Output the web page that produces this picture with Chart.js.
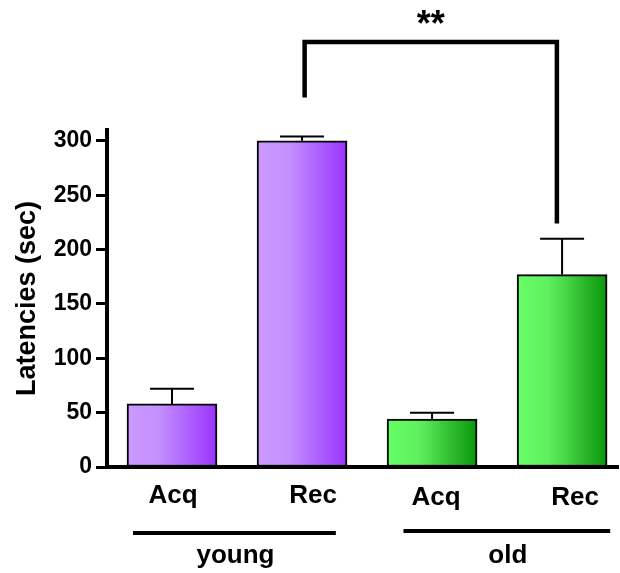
<!DOCTYPE html>
<html>
<head>
<meta charset="utf-8">
<script src="https://cdn.jsdelivr.net/npm/chart.js@4"></script>
<style>
    body { margin: 0; background: #fff; }
    #wrap { width: 620px; height: 573px; }
</style>
</head>
<body>
<div id="wrap"><canvas id="latencyChart" width="620" height="573"></canvas></div>
<script>
const categories = ["Acq", "Rec", "Acq", "Rec"];
const groups = ["young", "old"];
const latencies = [58, 300, 44, 177];
const sem = [14, 4, 6, 33];
const yTicks = [0, 50, 100, 150, 200, 250, 300];
const significance = "**";

const fontFamily = "'Liberation Sans', Arial, sans-serif";

// young bars purple, old bars green
function barGradient(context) {
    const chart = context.chart;
    const x = chart.scales.x;
    if (!x || !chart.chartArea) {
        return "#cc99ff";
    }
    const center = x.getPixelForValue(context.dataIndex);
    const g = chart.ctx.createLinearGradient(center - 45, 0, center + 45, 0);
    if (context.dataIndex < 2) {
        g.addColorStop(0, "#cc99ff");
        g.addColorStop(0.35, "#c490ff");
        g.addColorStop(1, "#9933ff");
    } else {
        g.addColorStop(0, "#66ff66");
        g.addColorStop(0.35, "#5ff05f");
        g.addColorStop(1, "#0a960a");
    }
    return g;
}

const extrasPlugin = {
    id: "extras",
    afterDatasetsDraw(chart) {
        const ctx = chart.ctx;
        const x = chart.scales.x;
        const y = chart.scales.y;

        ctx.save();
        ctx.strokeStyle = "#000";
        ctx.fillStyle = "#000";

        // error bars
        ctx.lineWidth = 2;
        latencies.forEach((v, i) => {
            const cx = x.getPixelForValue(i);
            const top = y.getPixelForValue(v + sem[i]);
            ctx.beginPath();
            ctx.moveTo(cx, y.getPixelForValue(v));
            ctx.lineTo(cx, top);
            ctx.moveTo(cx - 22, top);
            ctx.lineTo(cx + 22, top);
            ctx.stroke();
        });

        // significance bracket between young Rec and old Rec
        const lx = x.getPixelForValue(1.02);
        const rx = x.getPixelForValue(2.96);
        const by = y.getPixelForValue(391);
        ctx.lineWidth = 4.5;
        ctx.lineCap = "butt";
        ctx.lineJoin = "miter";
        ctx.beginPath();
        ctx.moveTo(lx, y.getPixelForValue(340));
        ctx.lineTo(lx, by);
        ctx.lineTo(rx, by);
        ctx.lineTo(rx, y.getPixelForValue(224));
        ctx.stroke();

        ctx.font = "bold 36px " + fontFamily;
        ctx.textAlign = "center";
        ctx.textBaseline = "alphabetic";
        ctx.fillText(significance, (lx + rx) / 2, 36);

        // category labels under bars
        const nudge = [1, 11, 4, 13];
        ctx.font = "bold 26px " + fontFamily;
        categories.forEach((c, i) => {
            ctx.fillText(c, x.getPixelForValue(i) + nudge[i], i < 2 ? 503 : 505);
        });

        // group lines and names
        const spans = [[-0.3, 1.26], [1.78, 3.37]];
        ctx.lineWidth = 4;
        ctx.font = "bold 26px " + fontFamily;
        groups.forEach((name, i) => {
            const x0 = x.getPixelForValue(spans[i][0]);
            const x1 = x.getPixelForValue(spans[i][1]);
            const ly = i === 0 ? 533 : 531;
            ctx.beginPath();
            ctx.moveTo(x0, ly);
            ctx.lineTo(x1, ly);
            ctx.stroke();
            ctx.fillText(name, (x0 + x1) / 2 + 1, 563);
        });

        ctx.restore();
    }
};

const ctx = document.getElementById("latencyChart").getContext("2d");

new Chart(ctx, {
    type: "bar",
    data: {
        datasets: [
            {
                data: latencies.map((v, i) => ({ x: i, y: v })),
                backgroundColor: barGradient,
                borderColor: "#000",
                borderWidth: 2,
                borderSkipped: false,
                barThickness: 90
            }
        ]
    },
    options: {
        responsive: false,
        animation: false,
        layout: {
            padding: { top: 130, bottom: 106, left: 0, right: 2 }
        },
        plugins: {
            legend: { display: false },
            tooltip: { enabled: false }
        },
        scales: {
            x: {
                type: "linear",
                offset: false,
                min: -0.5,
                max: 3.43,
                grid: { display: false, drawTicks: false },
                ticks: { display: false },
                border: { display: true, color: "#000", width: 4 },
                afterFit(scale) {
                    scale.height = 0;
                }
            },
            y: {
                min: 0,
                max: 310,
                afterBuildTicks(scale) {
                    scale.ticks = yTicks.map(v => ({ value: v }));
                },
                grid: {
                    drawOnChartArea: false,
                    drawTicks: true,
                    tickLength: 11,
                    tickWidth: 3,
                    tickColor: "#000"
                },
                border: { display: true, color: "#000", width: 4 },
                ticks: {
                    color: "#000",
                    padding: 4,
                    font: { family: fontFamily, size: 23, weight: "bold" }
                },
                title: {
                    display: true,
                    text: "Latencies (sec)",
                    color: "#000",
                    padding: { top: 11, bottom: 0 },
                    font: { family: fontFamily, size: 27, weight: "bold" }
                },
                afterFit(scale) {
                    scale.width = 107;
                }
            }
        }
    },
    plugins: [extrasPlugin]
});
</script>
</body>
</html>
